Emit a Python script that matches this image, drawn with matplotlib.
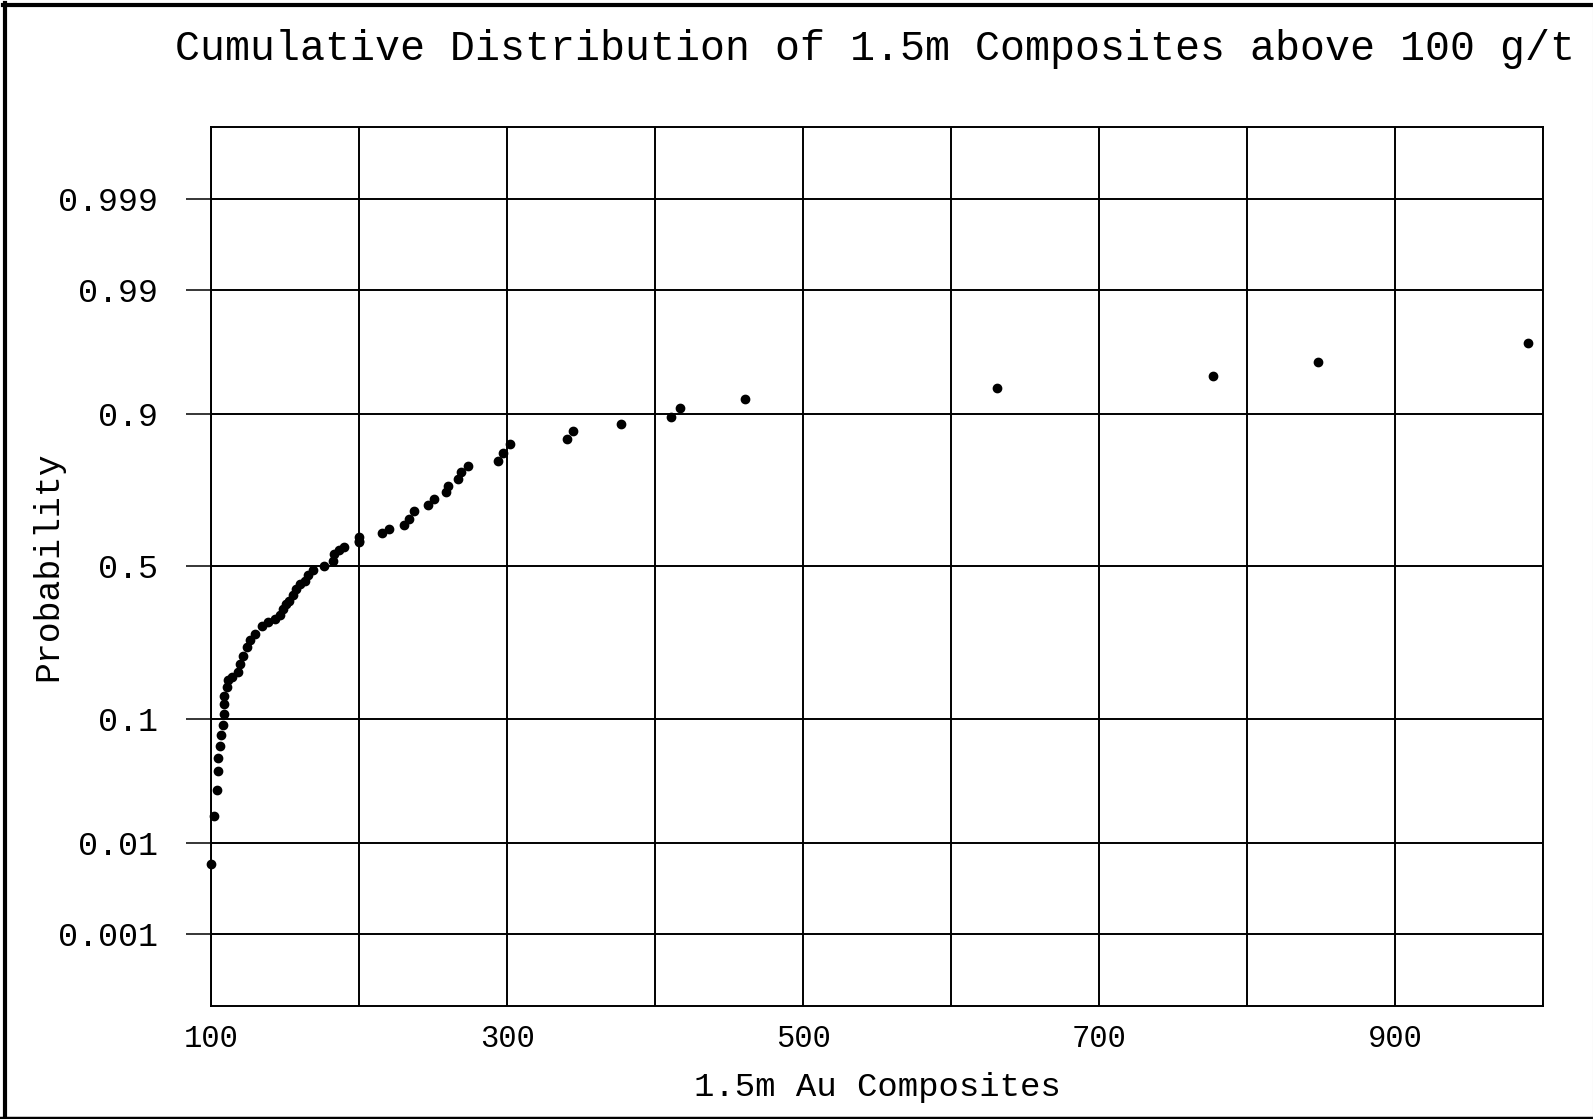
import numpy as np
import matplotlib
matplotlib.use("Agg")
import matplotlib.pyplot as plt
from matplotlib.lines import Line2D
from statistics import NormalDist

# 1.5m Au 组合样品 (g/t) 及其累积概率
au_grade = [
    100.0, 102.2, 104.0, 105.0, 105.0, 105.8, 106.7, 108.0, 108.5, 108.5,
    109.0, 110.7, 111.8, 114.0, 118.5, 119.6, 121.8, 124.0, 126.3, 129.7,
    134.2, 138.6, 143.0, 146.4, 148.6, 150.8, 153.0, 155.3, 157.1, 159.8,
    163.2, 165.4, 168.7, 176.6, 182.1, 183.3, 186.6, 190.0, 200.0, 200.0,
    200.0, 215.8, 220.3, 230.5, 233.9, 237.3, 246.3, 250.9, 258.8, 259.9,
    266.7, 269.0, 273.5, 294.0, 297.3, 302.3, 340.6, 344.3, 376.8, 410.6,
    417.1, 461.0, 631.0, 777.0, 848.0, 990.0,
]
cum_prob = [
    0.0062, 0.018, 0.030, 0.043, 0.054, 0.066, 0.078, 0.091, 0.108, 0.124,
    0.139, 0.155, 0.169, 0.176, 0.187, 0.207, 0.227, 0.249, 0.267, 0.286,
    0.307, 0.320, 0.330, 0.343, 0.361, 0.377, 0.387, 0.404, 0.425, 0.442,
    0.453, 0.470, 0.487, 0.503, 0.520, 0.543, 0.556, 0.564, 0.581, 0.586,
    0.597, 0.610, 0.624, 0.635, 0.656, 0.681, 0.696, 0.715, 0.734, 0.752,
    0.769, 0.786, 0.800, 0.813, 0.831, 0.849, 0.858, 0.872, 0.884, 0.895,
    0.908, 0.921, 0.933, 0.945, 0.957, 0.970,
]

prob_ticks = [0.001, 0.01, 0.1, 0.5, 0.9, 0.99, 0.999]
prob_labels = ["0.001", "0.01", "0.1", "0.5", "0.9", "0.99", "0.999"]
x_grid = [100, 200, 300, 400, 500, 600, 700, 800, 900, 1000]
x_ticks = [100, 300, 500, 700, 900]
x_labels = ["100", "300", "500", "700", "900"]

plt.rcParams["font.family"] = ["Liberation Mono", "DejaVu Sans Mono"]

# 正态概率刻度
_nd = NormalDist()
_ppf = np.vectorize(_nd.inv_cdf, otypes=[float])
_cdf = np.vectorize(_nd.cdf, otypes=[float])


def forward(p):
    p = np.clip(np.asarray(p, dtype=float), 1e-9, 1 - 1e-9)
    return _ppf(p)


def inverse(z):
    return _cdf(np.asarray(z, dtype=float))


W, H = 1593, 1119
fig = plt.figure(figsize=(W / 100, H / 100), dpi=100)
ax = fig.add_axes([211 / W, 1 - 1006 / H, (1543 - 211) / W, (1006 - 127) / H])

ax.set_yscale("function", functions=(forward, inverse))
ax.set_xlim(100, 1000)
ax.set_ylim(0.00011, 0.99989)

# 网格线
for xv in x_grid:
    ax.axvline(xv, color="black", lw=1.4, zorder=1)
for pv in prob_ticks:
    ax.axhline(pv, color="black", lw=1.4, zorder=1)

ax.plot(au_grade, cum_prob, linestyle="none", marker="o", markersize=6,
        color="black", zorder=3, clip_on=False)

ax.set_yticks(prob_ticks)
ax.set_yticklabels(prob_labels)
ax.set_xticks(x_ticks)
ax.set_xticklabels(x_labels)
ax.tick_params(axis="y", direction="out", length=18, width=1.1, pad=20, labelsize=24)
ax.tick_params(axis="x", length=0, pad=13, labelsize=22)
ax.yaxis.set_minor_locator(matplotlib.ticker.NullLocator())

for s in ax.spines.values():
    s.set_linewidth(1.4)

ax.set_xlabel("1.5m Au Composites", fontsize=24.5, labelpad=13)
fig.text(48 / W, 1 - 566 / H, "Probability", rotation=90, fontsize=25,
         ha="center", va="center")

fig.text(175 / W, 1 - 49 / H,
         "Cumulative Distribution of 1.5m Composites above 100 g/t",
         fontsize=30, ha="left", va="center")

# 外框
fig.add_artist(Line2D([5.3 / W, 5.3 / W], [0, 1 - 3 / H], color="black", lw=3, transform=fig.transFigure))
fig.add_artist(Line2D([3 / W, 1], [1 - 5.3 / H, 1 - 5.3 / H], color="black", lw=3, transform=fig.transFigure))
fig.add_artist(Line2D([0, 1], [1.5 / H, 1.5 / H], color="black", lw=2.5, transform=fig.transFigure))
fig.add_artist(Line2D([1 - 0.5 / W, 1 - 0.5 / W], [0, 1], color="#bbbbbb", lw=0.8, transform=fig.transFigure))

fig.savefig("out.png", dpi=100)
